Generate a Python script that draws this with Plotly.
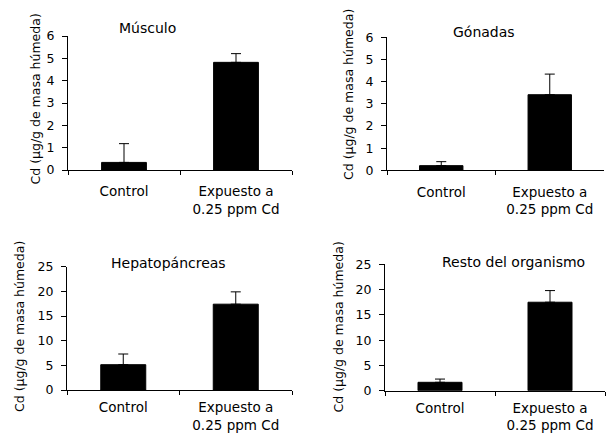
import plotly.graph_objects as go

W, H = 606, 435

categories = ["Control", "Expuesto a<br>0.25 ppm Cd"]

musculo = [0.34, 4.82]
musculo_err = [0.84, 0.39]

gonadas = [0.21, 3.41]
gonadas_err = [0.18, 0.93]

hepato = [5.13, 17.4]
hepato_err = [2.17, 2.5]

resto = [1.66, 17.5]
resto_err = [0.64, 2.3]

titles = ["Músculo", "Gónadas", "Hepatopáncreas", "Resto del organismo"]
ytitle = "Cd (µg/g de masa húmeda)"
yranges = [[0, 6], [0, 6], [0, 25], [0, 25]]
ydtick = [1, 1, 5, 5]

series = [(musculo, musculo_err), (gonadas, gonadas_err),
          (hepato, hepato_err), (resto, resto_err)]

# layout in pixels: (x0, x1, ytop, ybottom)
boxes = [(68, 292, 36, 170), (387, 604, 37.3, 170.3),
         (67, 292, 266.7, 390), (385, 605, 264.3, 390.7)]
title_pos = [(147, 28), (484, 32), (168, 263), (513, 262)]
ytitle_pos = [(34.5, 99), (348, 95), (19, 327), (337.5, 327)]
xlabel_standoff = [9, 9, 5, 5]

def px(x):
    return x / W

def py(y):
    return 1 - y / H

FONT = "DejaVu Sans"
fig = go.Figure()
annotations = []

for i, ((vals, errs), box) in enumerate(zip(series, boxes)):
    n = i + 1
    xa = "x" if n == 1 else f"x{n}"
    ya = "y" if n == 1 else f"y{n}"
    fig.add_trace(go.Bar(
        x=categories, y=vals, xaxis=xa, yaxis=ya,
        width=0.4, marker=dict(color="black", line=dict(color="black", width=1)),
        error_y=dict(type="data", symmetric=False, array=errs,
                     arrayminus=[0] * len(errs), color="black",
                     thickness=1, width=5),
        showlegend=False, hoverinfo="skip"))
    x0, x1, yt, yb = box
    common_x = dict(domain=[px(x0), px(x1)], showgrid=False, zeroline=False)
    common_y = dict(domain=[py(yb), py(yt)], showgrid=False, zeroline=False,
                    range=yranges[i], dtick=ydtick[i])
    fig.update_layout(**{
        ("xaxis" if n == 1 else f"xaxis{n}"): dict(
            **common_x, type="category", anchor=ya, range=[-0.5, 1.5],
            tickson="boundaries", ticks="outside", ticklen=4,
            tickcolor="black", showline=True, linecolor="black", linewidth=1,
            tickfont=dict(family=FONT, size=13.5, color="black"),
            ticklabelstandoff=xlabel_standoff[i], automargin=False),
        ("yaxis" if n == 1 else f"yaxis{n}"): dict(
            **common_y, anchor=xa, ticks="outside", ticklen=5,
            tickcolor="black", showline=True, linecolor="black", linewidth=1,
            tickfont=dict(family=FONT, size=12.5, color="black"),
            ticklabelstandoff=5, automargin=False),
        # overlay axes to make the tick marks cross the axis line
        f"xaxis{n + 4}": dict(
            overlaying=xa, anchor=ya, range=[-0.5, 1.5], showgrid=False,
            zeroline=False, showline=False, showticklabels=False,
            tickvals=[-0.5, 0.5, 1.5], ticks="inside", ticklen=4,
            tickcolor="black", automargin=False),
        f"yaxis{n + 4}": dict(
            overlaying=ya, anchor=xa, range=yranges[i], dtick=ydtick[i],
            showgrid=False, zeroline=False, showline=False,
            showticklabels=False, ticks="inside", ticklen=5,
            tickcolor="black", automargin=False),
    })
    tx, ty = title_pos[i]
    annotations.append(dict(x=px(tx), y=py(ty), xref="paper", yref="paper",
                            text=titles[i], showarrow=False,
                            xanchor="center", yanchor="middle",
                            font=dict(family=FONT, size=14, color="black")))
    ax_, ay_ = ytitle_pos[i]
    annotations.append(dict(x=px(ax_), y=py(ay_), xref="paper", yref="paper",
                            text=ytitle, showarrow=False, textangle=-90,
                            xanchor="center", yanchor="middle",
                            font=dict(family=FONT, size=12.5, color="black")))

fig.update_layout(width=W, height=H, autosize=False,
                  margin=dict(l=0, r=0, t=0, b=0, pad=0, autoexpand=False),
                  paper_bgcolor="white", plot_bgcolor="white",
                  annotations=annotations, bargap=0.6)

fig.write_html("out.html", config={"displayModeBar": False},
               post_script="document.body.style.margin='0px';"
                           "document.body.style.overflow='hidden';")
